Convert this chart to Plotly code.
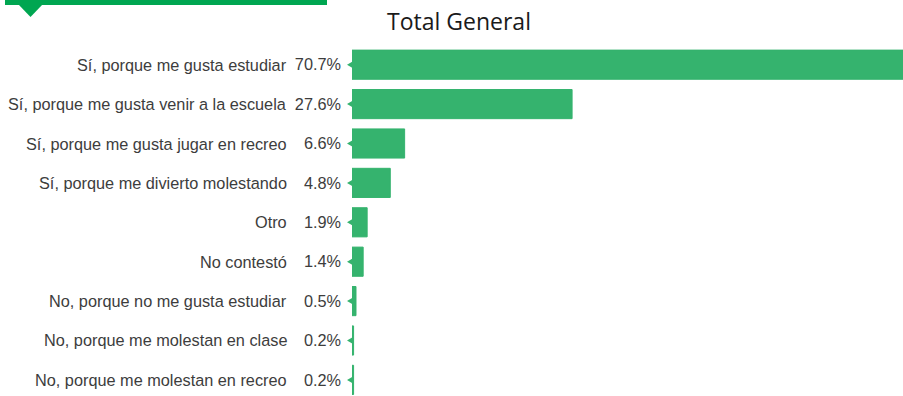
import plotly.graph_objects as go

categories = [
    "Sí, porque me gusta estudiar",
    "Sí, porque me gusta venir a la escuela",
    "Sí, porque me gusta jugar en recreo",
    "Sí, porque me divierto molestando",
    "Otro",
    "No contestó",
    "No, porque no me gusta estudiar",
    "No, porque me molestan en clase",
    "No, porque me molestan en recreo",
]
values = [70.7, 27.6, 6.6, 4.8, 1.9, 1.4, 0.5, 0.2, 0.2]
title_text = "Total General"

BAR = "#35b36e"
ACCENT = "#00a651"
TEXT = "#3d3d3d"
LABEL_FONT = "Liberation Sans, Arial, sans-serif"

rows = list(range(len(categories)))
value_labels = [f"{v:.1f}%" for v in values]

fig = go.Figure()
fig.add_trace(go.Bar(
    x=values, y=rows, orientation="h",
    marker=dict(color=BAR, line=dict(width=1, color=BAR)),
    width=0.74, hoverinfo="skip",
))

# small pointer at the base of each bar
for r in rows:
    fig.add_shape(type="path", xref="paper", yref="y",
                  xsizemode="pixel", ysizemode="pixel", xanchor=0, yanchor=r,
                  path="M 1,3.5 L 1,-3.5 L -5,0 Z",
                  fillcolor=BAR, line=dict(width=0), layer="above")

for r, cat in zip(rows, categories):
    fig.add_annotation(
        x=0, xref="paper", y=r, yref="y", text=cat, showarrow=False,
        xanchor="right", yanchor="middle", xshift=-63,
        font=dict(family=LABEL_FONT, size=16.3, color=TEXT),
    )

# green header strip with a downward notch
fig.add_shape(type="rect", xref="paper", yref="paper",
              xsizemode="pixel", ysizemode="pixel", xanchor=0, yanchor=1,
              x0=-347, x1=-25, y0=40, y1=46,
              fillcolor=ACCENT, line=dict(width=0))
fig.add_shape(type="path", xref="paper", yref="paper",
              xsizemode="pixel", ysizemode="pixel", xanchor=0, yanchor=1,
              path="M -334,41 L -309,41 L -321.5,28 Z",
              fillcolor=ACCENT, line=dict(width=0))

fig.update_layout(
    width=903, height=396,
    margin=dict(l=352, r=0, t=45, b=0),
    paper_bgcolor="white", plot_bgcolor="white",
    showlegend=False,
    title=dict(text=title_text, x=459 / 903, xanchor="center",
               y=1 - 22 / 396, yanchor="middle", xref="container", yref="container",
               font=dict(family="Open Sans, sans-serif", size=23, color="#1a1a1a")),
    xaxis=dict(range=[0, 69.1], visible=False, fixedrange=True),
    yaxis=dict(range=[8.409, -0.5], tickvals=rows, ticktext=value_labels,
               showgrid=False, zeroline=False, showline=False, ticks="",
               ticklabelstandoff=10,
               tickfont=dict(family=LABEL_FONT, size=16.3, color=TEXT)),
)

fig.write_html("out.html")
